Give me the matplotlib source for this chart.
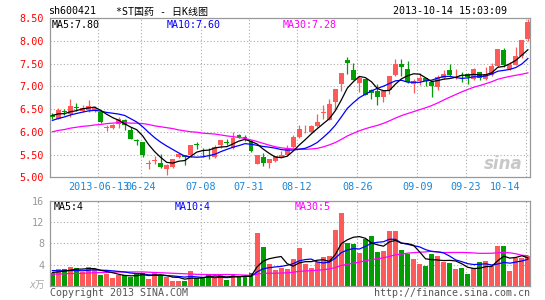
import numpy as np
import pandas as pd
import matplotlib
matplotlib.use("Agg")
import matplotlib.pyplot as plt

# ---------------- data ----------------
opens = [6.37, 6.29, 6.46, 6.38, 6.54, 6.46, 6.47, 6.47, 6.43, 6.08,
         6.09, 6.18, 6.25, 6.04, 5.82, 5.77, 5.30, 5.36, 5.32, 5.19,
         5.22, 5.44, 5.49, 5.48, 5.73, 5.58, 5.58, 5.44, 5.70, 5.76,
         5.64, 5.94, 5.87, 5.79, 5.30, 5.44, 5.31, 5.35, 5.43, 5.48,
         5.66, 5.88, 6.03, 5.99, 6.12, 6.42, 6.26, 6.65, 7.05, 7.57,
         7.35, 7.07, 7.15, 6.92, 6.90, 6.77, 6.92, 7.24, 7.50, 7.39,
         7.06, 7.11, 7.18, 7.10, 6.99, 7.18, 7.35, 7.24, 7.24, 7.28,
         7.17, 7.31, 7.17, 7.24, 7.45, 7.80, 7.37, 7.47, 7.66, 8.03]
highs = [6.41, 6.53, 6.51, 6.71, 6.63, 6.58, 6.69, 6.56, 6.45, 6.14,
         6.18, 6.32, 6.29, 6.10, 5.85, 5.78, 5.37, 5.46, 5.52, 5.30,
         5.41, 5.54, 5.50, 5.70, 5.77, 5.65, 5.65, 5.70, 5.83, 5.85,
         5.99, 5.95, 5.92, 5.82, 5.48, 5.53, 5.41, 5.47, 5.58, 5.70,
         5.92, 6.16, 6.16, 6.16, 6.38, 6.58, 6.73, 6.95, 7.30, 7.65,
         7.51, 7.22, 7.17, 6.94, 7.05, 6.90, 7.22, 7.60, 7.61, 7.55,
         7.17, 7.30, 7.19, 7.12, 7.24, 7.35, 7.50, 7.39, 7.32, 7.29,
         7.40, 7.32, 7.43, 7.51, 7.82, 7.84, 7.54, 7.87, 8.02, 8.48]
lows = [6.27, 6.27, 6.36, 6.32, 6.46, 6.43, 6.43, 6.43, 6.20, 6.01,
        6.07, 6.09, 6.03, 5.85, 5.70, 5.44, 5.18, 5.30, 5.20, 5.06,
        5.21, 5.43, 5.28, 5.45, 5.63, 5.44, 5.40, 5.42, 5.65, 5.70,
        5.62, 5.87, 5.80, 5.55, 5.29, 5.24, 5.21, 5.34, 5.42, 5.47,
        5.65, 5.86, 5.97, 5.98, 6.10, 6.27, 6.26, 6.51, 6.90, 7.27,
        7.13, 6.88, 6.80, 6.73, 6.58, 6.66, 6.82, 7.22, 7.22, 7.08,
        6.86, 7.02, 7.00, 6.77, 6.91, 7.16, 7.22, 7.15, 7.10, 7.05,
        7.13, 7.14, 7.13, 7.22, 7.43, 7.43, 7.36, 7.46, 7.63, 7.99]
closes = [6.33, 6.47, 6.44, 6.56, 6.52, 6.53, 6.57, 6.53, 6.21, 6.09,
          6.16, 6.28, 6.14, 5.85, 5.80, 5.48, 5.31, 5.37, 5.22, 5.26,
          5.40, 5.52, 5.44, 5.70, 5.71, 5.57, 5.57, 5.67, 5.81, 5.75,
          5.87, 5.88, 5.86, 5.57, 5.48, 5.32, 5.41, 5.46, 5.49, 5.63,
          5.89, 6.07, 6.05, 6.12, 6.21, 6.44, 6.61, 6.93, 7.30, 7.52,
          7.14, 7.19, 6.80, 6.85, 6.77, 6.90, 7.22, 7.50, 7.43, 7.10,
          7.12, 7.18, 7.11, 7.01, 7.20, 7.28, 7.25, 7.25, 7.23, 7.21,
          7.37, 7.18, 7.28, 7.44, 7.82, 7.46, 7.47, 7.66, 8.01, 8.41]
prior_closes = [6.05, 6.10, 6.12, 6.20, 6.23, 6.30, 6.42, 6.35, 6.40]
ma30_head = [6.00, 6.03, 6.05, 6.08, 6.10, 6.12, 6.13, 6.15, 6.16, 6.18,
             6.19, 6.20, 6.20, 6.19, 6.19, 6.18, 6.16, 6.13, 6.11, 6.09,
             6.07, 6.04, 6.02, 6.00, 5.99, 5.97, 5.96, 5.95, 5.93]

volumes = [2.48, 3.11, 3.10, 3.55, 3.36, 2.60, 3.55, 3.10, 1.98, 2.17,
           1.48, 2.10, 1.98, 1.60, 2.30, 2.48, 1.23, 2.48, 1.79, 1.60,
           0.97, 0.97, 0.85, 2.74, 1.48, 1.48, 1.98, 1.48, 2.30, 1.04,
           1.98, 1.73, 1.73, 2.36, 9.97, 7.33, 4.06, 2.92, 3.30, 3.18,
           5.00, 7.14, 4.06, 3.36, 4.50, 5.44, 5.57, 10.47, 13.74, 8.14,
           7.83, 6.19, 8.90, 9.34, 6.38, 6.50, 10.28, 10.28, 6.70, 5.94,
           5.00, 4.06, 3.68, 5.94, 5.57, 4.50, 4.25, 3.10, 3.36, 2.17,
           3.36, 4.50, 4.60, 3.68, 7.52, 7.52, 2.74, 5.25, 5.25, 5.57]
prior_volumes = [3.5, 3.2, 3.0, 3.4, 3.0, 2.6, 2.3, 2.7, 2.42]
vol_ma30_head = [2.20, 2.20, 2.25, 2.30, 2.30, 2.35, 2.40, 2.45, 2.50, 2.50,
                 2.55, 2.60, 2.60, 2.60, 2.60, 2.60, 2.55, 2.50, 2.45, 2.40,
                 2.35, 2.30, 2.25, 2.20, 2.15, 2.12, 2.10, 2.10, 2.10]

tick_idx = [8, 15, 25, 33, 41, 51, 61, 69, 79]
tick_labels = ['2013-06-13', '06-24', '07-08', '07-31', '08-12',
               '08-26', '09-09', '09-23', '10-14']
price_ticks = [8.5, 8.0, 7.5, 7.0, 6.5, 6.0, 5.5, 5.0]
vol_ticks = [16, 12, 8, 4]

# ---------------- derived ----------------
n = len(closes)
x = np.arange(n)
c_all = pd.Series(prior_closes + closes)
ma5 = c_all.rolling(5).mean().values[len(prior_closes):]
ma10 = c_all.rolling(10).mean().values[len(prior_closes):]
m30 = pd.Series(closes).rolling(30).mean().values
ma30 = np.array([ma30_head[i] if np.isnan(m30[i]) else m30[i] for i in range(n)])

v_all = pd.Series(prior_volumes + volumes)
vma5 = v_all.rolling(5).mean().values[len(prior_volumes):]
vma10 = v_all.rolling(10).mean().values[len(prior_volumes):]
vm30 = pd.Series(volumes).rolling(30).mean().values
vma30 = np.array([vol_ma30_head[i] if np.isnan(vm30[i]) else vm30[i] for i in range(n)])

RED = '#ff5a5a'
GREEN = '#009e00'
up = np.array(closes) >= np.array(opens)
cols = [RED if u else GREEN for u in up]

W, H = 545, 300
fig = plt.figure(figsize=(W / 100, H / 100), dpi=100)
fig.patch.set_facecolor('white')

MONO = ['DejaVu Sans Mono', 'Noto Sans CJK SC']


def fx(px):
    return px / W


def fy(py):
    return 1 - py / H


L, R = 50, 530
axp = fig.add_axes([fx(L), fy(177.3), fx(R) - fx(L), fy(18) - fy(177.3)])
axv = fig.add_axes([fx(L), fy(285.7), fx(R) - fx(L), fy(201) - fy(285.7)])

xmin, xmax = -0.4, 79.35
grid_kw = dict(color='#aaaaaa', lw=0.8, ls=(0, (1, 2)), zorder=0)

for ax in (axp, axv):
    ax.set_xlim(xmin, xmax)
    for s in ax.spines.values():
        s.set_color('#999999')
        s.set_linewidth(0.9)
    ax.set_xticks([])
    ax.tick_params(axis='y', length=0, pad=4.2)
    for t in tick_idx:
        ax.axvline(t - 0.35, **grid_kw)

# price panel
axp.set_ylim(5.0, 8.5)
axp.set_yticks(price_ticks)
axp.set_yticklabels(['%.2f' % v for v in price_ticks], color='#ff0000',
                    family=MONO, fontsize=7.3)
for v in price_ticks[1:-1]:
    axp.axhline(v, **grid_kw)

body_w = 0.82
bottoms = np.minimum(opens, closes)
heights = np.maximum(np.abs(np.array(closes) - np.array(opens)), 0.018)
axp.vlines(x, lows, highs, colors=cols, lw=0.9, zorder=2)
axp.bar(x, heights, bottom=bottoms, width=body_w, color=cols,
        linewidth=0, zorder=3)
axp.plot(x, ma30, color='#ff00ff', lw=0.9, zorder=4)
axp.plot(x, ma10, color='#0000ff', lw=0.9, zorder=4)
axp.plot(x, ma5, color='black', lw=0.9, zorder=4)

# volume panel
axv.set_ylim(0, 16)
axv.set_yticks(vol_ticks)
axv.set_yticklabels([str(v) for v in vol_ticks], color='#999999',
                    family=MONO, fontsize=7.3)
for v in vol_ticks[1:]:
    axv.axhline(v, **grid_kw)
axv.bar(x, volumes, width=body_w, color=cols, linewidth=0, zorder=2)
axv.plot(x, vma30, color='#ff00ff', lw=0.9, zorder=4)
axv.plot(x, vma10, color='#0000ff', lw=0.9, zorder=4)
axv.plot(x, vma5, color='black', lw=0.9, zorder=4)

# x tick labels (between panels)
for t, lab in zip(tick_idx, tick_labels):
    if t == tick_idx[-1]:
        fig.text(fx(520), fy(186.5), lab, ha='right', va='center',
                 color='#1a86d8', family=MONO, fontsize=7.3)
    else:
        xd = axp.transData.transform((t - 0.35, 0))[0]
        fig.text(xd / fig.bbox.width, fy(186.5), lab, ha='center',
                 va='center', color='#1a86d8', family=MONO, fontsize=7.3)

# header
fig.text(fx(48), fy(11.5), 'sh600421', ha='left', va='center',
         family=MONO, fontsize=7.2, color='black')
fig.text(fx(116), fy(11.5), '*ST国药 - 日K线图', ha='left', va='center',
         family=MONO, fontsize=7.2, color='black')
fig.text(fx(507), fy(11.5), '2013-10-14 15:03:09', ha='right', va='center',
         family=MONO, fontsize=7.2, color='black')

# MA legends
fig.text(fx(52), fy(24.5), 'MA5:7.80', ha='left', va='center',
         family=MONO, fontsize=7.2, color='black')
fig.text(fx(167), fy(24.5), 'MA10:7.60', ha='left', va='center',
         family=MONO, fontsize=7.2, color='#0000ff')
fig.text(fx(283), fy(24.5), 'MA30:7.28', ha='left', va='center',
         family=MONO, fontsize=7.2, color='#ff00ff')
fig.text(fx(54), fy(207.5), 'MA5:4', ha='left', va='center',
         family=MONO, fontsize=7.2, color='black')
fig.text(fx(175), fy(207.5), 'MA10:4', ha='left', va='center',
         family=MONO, fontsize=7.2, color='#0000ff')
fig.text(fx(295), fy(207.5), 'MA30:5', ha='left', va='center',
         family=MONO, fontsize=7.2, color='#ff00ff')

# volume unit
fig.text(fx(45), fy(284.5), 'x万', ha='right', va='center',
         family=MONO, fontsize=7, color='#aaaaaa', style='italic')

# footer
fig.text(fx(50), fy(293), 'Copyright 2013 SINA.COM', ha='left', va='center',
         family=MONO, fontsize=7.2, color='#555555')
fig.text(fx(530), fy(293), 'http://finance.sina.com.cn', ha='right',
         va='center', family=MONO, fontsize=7.2, color='#555555')

# watermark
fig.text(fx(503), fy(164), 'sina', ha='center', va='center',
         fontsize=12, color='#c8c8c8', style='italic', weight='bold',
         family='DejaVu Sans', zorder=1)

fig.savefig('out.png', dpi=100, facecolor='white')
